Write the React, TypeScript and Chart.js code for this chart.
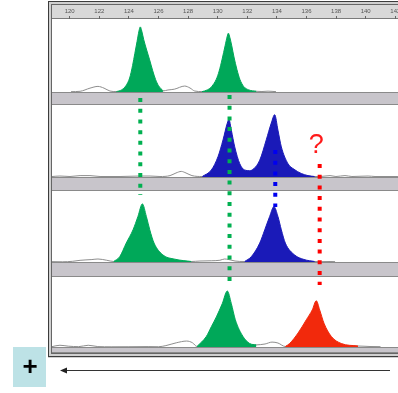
import React, { useEffect, useRef } from "react";
import { Chart, registerables } from "chart.js";
Chart.register(...registerables);

// ---- data (x in base pairs, y in relative fluorescence units) ----
const X_TICKS = [120, 122, 124, 126, 128, 130, 132, 134, 136, 138, 140, 142];

const LANE1_NOISE = [[120.09,0.5],[120.7,1],[121.37,5.5],[121.91,8],[122.32,5.5],[122.72,1.4],[123.15,0.6],[126.3,1.5],[126.64,2.9],[127.07,4],[127.77,8.5],[128.13,5.7],[128.45,1.4],[128.94,0.6],[132.61,1],[132.99,0.7],[133.4,1.2],[133.94,0.5]];
const LANE1_GREEN_A = [[123.15,0.5],[123.5,3],[123.8,9],[124.05,20],[124.25,38],[124.4,55],[124.55,72],[124.68,87],[124.77,93],[124.87,87],[125.0,75],[125.2,60],[125.4,46],[125.6,31],[125.8,18],[126.0,9],[126.3,2]];
const LANE1_GREEN_B = [[128.94,0.5],[129.3,3],[129.6,8],[129.9,18],[130.1,30],[130.3,47],[130.5,66],[130.65,80],[130.72,84],[130.82,78],[130.95,66],[131.1,50],[131.3,32],[131.5,18],[131.75,8],[132.1,3],[132.61,1]];

const LANE2_NOISE = [[118.8,0.7],[119.34,1.4],[120.02,0.7],[120.7,2],[121.37,2],[122.05,0.7],[123.4,0.7],[124.75,1.4],[125.43,1.4],[126.1,0.7],[126.78,2],[127.18,5.7],[127.54,8],[127.86,5.7],[128.26,2],[128.96,0.7],[136.55,0.7],[136.91,0.7],[137.59,2],[137.99,0.7],[138.6,2],[139.07,0.7],[140.16,1.4],[140.63,0.7],[142.18,0.7]];
const LANE2_BLUE = [[128.96,0.7],[129.57,10],[130.02,29],[130.36,53],[130.65,77],[130.76,82],[130.92,67],[131.15,43],[131.49,19],[131.82,10],[132.16,9],[132.45,12],[132.84,24],[133.28,53],[133.62,77],[133.85,89],[134.07,67],[134.3,43],[134.75,19],[135.16,11],[135.65,5],[136.1,2],[136.55,0.7]];

const LANE3_NOISE = [[118.8,0.5],[119.5,0.3],[120.2,1.0],[120.7,2.4],[121.5,3.5],[121.91,4.3],[122.5,2.5],[122.97,0.7],[128.22,0.7],[128.8,1.4],[129.6,1.8],[130.15,2.5],[130.47,4.3],[130.76,3.5],[131.17,1.4],[131.82,0.7],[136.55,0.7],[137.0,0.5],[137.59,0.7],[137.93,0.5]];
const LANE3_GREEN = [[122.97,0.7],[123.38,7.6],[123.82,27],[124.28,46],[124.61,65],[124.91,83],[125.18,65],[125.41,46],[125.7,27],[126.3,10],[127.11,4],[128.22,0.7]];
const LANE3_BLUE = [[131.82,0.7],[132.27,7.6],[132.84,27],[133.18,46],[133.51,65],[133.8,79],[134.07,65],[134.3,46],[134.57,27],[135.2,10],[135.83,3.6],[136.55,0.7]];

const LANE4_NOISE = [[118.8,0.5],[119.34,2.5],[119.9,1.2],[120.6,0.5],[121.25,2.5],[121.9,0.6],[122.8,0.3],[124.0,0.4],[125.3,0.6],[126.0,0.4],[126.5,2],[127.2,6],[127.9,8.5],[128.3,6],[128.6,0.7],[132.61,3],[133.2,4.3],[133.67,7],[134.07,5.7],[134.57,0.7],[139.48,1.4],[140.29,0.7],[141.0,0.5]];
const LANE4_GREEN = [[128.6,0.7],[129.23,15],[129.57,29],[129.91,43],[130.31,62],[130.65,80],[130.92,62],[131.19,39],[131.71,15],[132.16,5],[132.61,3]];
const LANE4_RED = [[134.57,0.7],[134.86,5],[135.43,20],[135.99,39],[136.39,53],[136.66,66],[136.89,53],[137.18,34],[137.68,15],[138.35,5],[139.48,1.4]];

// allele guide lines: x position (bp), start lane, end lane (1 lane = one panel)
const GUIDE_X = [124.77, 130.8, 133.89, 136.89];
const GUIDE_FROM = [0.919, 0.884, 1.523, 1.686];
const GUIDE_TO = [2.047, 3.058, 2.186, 3.093];
const GUIDE_COLORS = ["#00b050", "#00b050", "#0000f0", "#ff0000"];
const QUESTION = { text: "?", x: 136.66, lane: 1.477 };

// ---- layout / style ----
const W = 398, H = 393;
const PLOT_LEFT = 52, PLOT_TOP = 19, PLOT_BOTTOM = 353;
const BASELINES = [92, 177, 262, 347];
const PANEL_TOPS = [19, 105, 191, 277, 353];
const PX_PER_UNIT = 0.7;
const LANE_PX = 86;
const GREEN = "#00a859", BLUE = "#1a1ab8", RED = "#f2290c";

function laneAxis(k: number) {
  return {
    type: "linear" as const,
    display: false,
    min: -(PLOT_BOTTOM - BASELINES[k]) / PX_PER_UNIT,
    max: (BASELINES[k] - PLOT_TOP) / PX_PER_UNIT,
  };
}

const pts = (a: number[][]) => a.map(([x, y]) => ({ x, y }));

function noise(a: number[][], axis: string) {
  return { data: pts(a), yAxisID: axis, borderColor: "#8e8e8e", borderWidth: 1, pointRadius: 0, fill: false, cubicInterpolationMode: "monotone", order: 3 };
}
function peak(a: number[][], axis: string, color: string) {
  return { data: pts(a), yAxisID: axis, borderColor: color, backgroundColor: color, borderWidth: 1, pointRadius: 0, fill: "origin", cubicInterpolationMode: "monotone", order: 2 };
}

const framePlugin = {
  id: "frame",
  beforeDraw(chart: any) {
    const ctx = chart.ctx;
    ctx.save();
    ctx.fillStyle = "#fff";
    ctx.fillRect(0, 0, W, H);
    ctx.fillStyle = "#d0d0d0";
    ctx.fillRect(48, 1, W - 48, 357);
    ctx.lineWidth = 1;
    ctx.strokeStyle = "#3c3c3c";
    ctx.strokeRect(48.5, 1.5, 420, 355);
    ctx.strokeStyle = "#666";
    ctx.strokeRect(51.5, 4.5, 420, 349);
    ctx.fillStyle = "#d8d8d8";
    ctx.fillRect(PLOT_LEFT, 5, W - PLOT_LEFT, 13);
    ctx.strokeStyle = "#7a7a7a";
    ctx.beginPath(); ctx.moveTo(PLOT_LEFT, 18.5); ctx.lineTo(W, 18.5); ctx.stroke();
    ctx.fillStyle = "#fff";
    ctx.fillRect(PLOT_LEFT, PLOT_TOP, W - PLOT_LEFT, PLOT_BOTTOM - PLOT_TOP);
    for (let k = 0; k < 4; k++) {
      const y0 = BASELINES[k], y1 = PANEL_TOPS[k + 1];
      ctx.fillStyle = "#c8c5cb";
      ctx.fillRect(PLOT_LEFT, y0, W - PLOT_LEFT, y1 - y0);
      ctx.strokeStyle = "#8a8a8a";
      ctx.beginPath(); ctx.moveTo(PLOT_LEFT, y0 + 0.5); ctx.lineTo(W, y0 + 0.5); ctx.stroke();
      ctx.beginPath(); ctx.moveTo(PLOT_LEFT, y1 - 0.5); ctx.lineTo(W, y1 - 0.5); ctx.stroke();
    }
    ctx.restore();
  },
  afterDraw(chart: any) {
    const ctx = chart.ctx;
    const xs = chart.scales.x, ys = chart.scales.yLane;
    ctx.save();
    ctx.fillStyle = "#ff1a1a";
    ctx.font = "27px 'Liberation Sans', Arial, sans-serif";
    ctx.textAlign = "center";
    ctx.textBaseline = "middle";
    ctx.fillText(QUESTION.text, xs.getPixelForValue(QUESTION.x), ys.getPixelForValue(QUESTION.lane));
    // + box
    ctx.fillStyle = "#bde2e6";
    ctx.fillRect(13, 347, 33, 40);
    ctx.fillStyle = "#000";
    ctx.font = "bold 26px 'Liberation Sans', Arial, sans-serif";
    ctx.fillText("+", 30, 368);
    // arrow
    ctx.strokeStyle = "#333";
    ctx.lineWidth = 1;
    ctx.beginPath(); ctx.moveTo(64, 370.5); ctx.lineTo(390, 370.5); ctx.stroke();
    ctx.fillStyle = "#222";
    ctx.beginPath(); ctx.moveTo(60, 370.5); ctx.lineTo(67, 367.5); ctx.lineTo(67, 373.5); ctx.closePath(); ctx.fill();
    ctx.restore();
  },
};

export default function App() {
  const ref = useRef<HTMLCanvasElement>(null);
  useEffect(() => {
    const guides = GUIDE_X.map((x, i) => ({
      data: [{ x, y: GUIDE_FROM[i] }, { x, y: GUIDE_TO[i] }],
      yAxisID: "yLane",
      borderColor: GUIDE_COLORS[i],
      borderWidth: 4,
      borderDash: [4, 6.7],
      borderCapStyle: "butt",
      pointRadius: 0,
      fill: false,
      order: 0,
    }));
    const datasets: any[] = [
      ...guides,
      noise(LANE1_NOISE, "y1"), peak(LANE1_GREEN_A, "y1", GREEN), peak(LANE1_GREEN_B, "y1", GREEN),
      noise(LANE2_NOISE, "y2"), peak(LANE2_BLUE, "y2", BLUE),
      noise(LANE3_NOISE, "y3"), peak(LANE3_GREEN, "y3", GREEN), peak(LANE3_BLUE, "y3", BLUE),
      noise(LANE4_NOISE, "y4"), peak(LANE4_GREEN, "y4", GREEN), peak(LANE4_RED, "y4", RED),
    ];
    const xMin = 120 - (69.7 - PLOT_LEFT) / 14.8;
    const xMax = 120 + (W - 69.7) / 14.8;
    const chart = new Chart(ref.current as HTMLCanvasElement, {
      type: "line",
      data: { datasets },
      options: {
        responsive: false,
        animation: false,
        events: [],
        layout: { padding: { left: PLOT_LEFT, right: 0, top: 5, bottom: H - PLOT_BOTTOM } },
        plugins: { legend: { display: false }, tooltip: { enabled: false } },
        scales: {
          x: {
            type: "linear",
            position: "top",
            min: xMin,
            max: xMax,
            afterBuildTicks: (s: any) => { s.ticks = X_TICKS.map((v) => ({ value: v })); },
            afterFit: (s: any) => { s.height = 14; s.paddingLeft = 0; s.paddingRight = 0; },
            grid: { drawOnChartArea: false, tickLength: 3, color: "#666", tickColor: "#666" },
            border: { display: false },
            ticks: { font: { size: 6, family: "'Liberation Sans', Arial" }, color: "#555", padding: 1, maxRotation: 0, autoSkip: false, callback: (v: any) => String(v) },
          },
          y1: laneAxis(0),
          y2: laneAxis(1),
          y3: laneAxis(2),
          y4: laneAxis(3),
          yLane: { type: "linear", display: false, reverse: true, min: 0, max: (PLOT_BOTTOM - PLOT_TOP) / LANE_PX },
        },
      } as any,
      plugins: [framePlugin],
    });
    return () => chart.destroy();
  }, []);
  return (
    <div style={{ position: "absolute", left: 0, top: 0, width: W, height: H, background: "#fff" }}>
      <canvas ref={ref} width={W} height={H} style={{ display: "block", width: W, height: H }} />
    </div>
  );
}
